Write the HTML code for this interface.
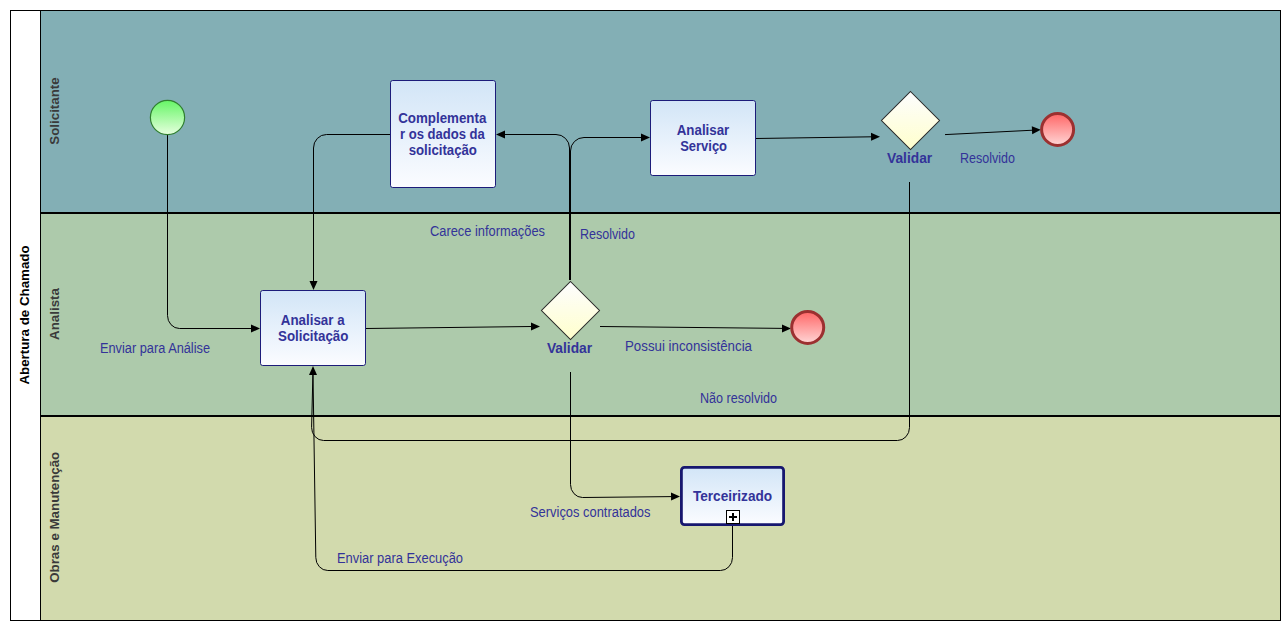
<!DOCTYPE html>
<html>
<head>
<meta charset="utf-8">
<title>Abertura de Chamado</title>
<style>
html,body{margin:0;padding:0;background:#fff;}
body{width:1286px;height:626px;overflow:hidden;}
svg{display:block;}
text{font-family:"Liberation Sans",Arial,sans-serif;font-size:13.33px;}
.lbl{fill:#333399;}
.tb{fill:#333399;font-weight:bold;}
.ln{fill:#3a3a3a;font-weight:bold;text-anchor:middle;}
.pl{fill:#000;font-weight:bold;text-anchor:middle;}
.fl{fill:none;stroke:#000;stroke-width:1;}
.fl2{fill:none;stroke:#000;stroke-width:2;}
.ah{fill:#000;stroke:none;}
</style>
</head>
<body>
<svg width="1286" height="626" viewBox="0 0 1286 626">
<defs>
<linearGradient id="gt" x1="0" y1="0" x2="0" y2="1"><stop offset="0" stop-color="#d2e5f7"/><stop offset="1" stop-color="#fbfcff"/></linearGradient>
<linearGradient id="gg" x1="0" y1="0" x2="0" y2="1"><stop offset="0" stop-color="#fdfdff"/><stop offset="1" stop-color="#ffffcc"/></linearGradient>
<linearGradient id="gs" x1="0" y1="0" x2="0" y2="1"><stop offset="0" stop-color="#66f566"/><stop offset="1" stop-color="#e6ffde"/></linearGradient>
<linearGradient id="ge" x1="0" y1="0" x2="0" y2="1"><stop offset="0" stop-color="#ff6666"/><stop offset="1" stop-color="#ffd6d6"/></linearGradient>
</defs>

<!-- pool and lanes -->
<rect x="0" y="0" width="1286" height="626" fill="#fff"/>
<rect x="41" y="11" width="1239" height="202" fill="#83afb5"/>
<rect x="41" y="213" width="1239" height="203" fill="#adcaab"/>
<rect x="41" y="416" width="1239" height="204" fill="#d2daad"/>
<rect x="10.5" y="10.5" width="1270" height="610" fill="none" stroke="#000" stroke-width="1"/>
<line x1="40.5" y1="10" x2="40.5" y2="621" stroke="#000" stroke-width="1"/>
<rect x="40" y="212" width="1241" height="2" fill="#000"/>
<rect x="40" y="415" width="1241" height="2" fill="#000"/>

<!-- lane labels -->
<text class="pl" transform="translate(29.1 315) rotate(-90)">Abertura de Chamado</text>
<text class="ln" transform="translate(59.2 111) rotate(-90)">Solicitante</text>
<text class="ln" transform="translate(59.2 314) rotate(-90)">Analista</text>
<text class="ln" transform="translate(59.2 517.3) rotate(-90)">Obras e Manutenção</text>
<!-- sequence flows -->
<g id="flows">
<path class="fl" d="M167.5 135V315.5A12 13 0 0 0 179.5 328.5H252"/>
<path class="ah" d="M260 328.5L251 324.5V332.5Z"/>
<path class="fl" d="M390 134.5H326.5A13 13.5 0 0 0 313.5 148V282"/>
<path class="ah" d="M313.5 290L309.5 281H317.5Z"/>
<path class="fl" d="M366 328.5L532 326.5"/>
<path class="ah" d="M540 326.4L531 322.5V330.5Z"/>
<path class="fl" d="M569.5 280V148A13.5 13.5 0 0 0 556 134.5H504"/>
<path class="ah" d="M496 134.5L505 130.5V138.5Z"/>
<path class="fl" d="M570.5 280V151A13.5 13.5 0 0 1 584 137.5H642"/>
<path class="ah" d="M650 137.5L641 133.5V141.5Z"/>
<path class="fl" d="M756 138.5L872 136.8"/>
<path class="ah" d="M880 136.7L871 132.8L871.1 140.8Z"/>
<path class="fl" d="M945 134.6L1033 130.2"/>
<path class="ah" d="M1040.8 129.8L1031.8 126.3L1032.2 134.3Z"/>
<path class="fl" d="M600 326.5L783 328.4"/>
<path class="ah" d="M791 328.4L782 324.4V332.4Z"/>
<path class="fl" d="M570.5 372V484.5A12 13 0 0 0 582.5 497.5L672 496.6"/>
<path class="ah" d="M680 496.5L671 492.6L671.1 500.6Z"/>
<path class="fl" d="M909.5 182V427.5A12 13 0 0 1 897.5 440.5H323.6A12 13 0 0 1 311.6 427.5L312.9 374"/>
<path class="fl" d="M732.5 526V557.5A12 13 0 0 1 720.5 570.5H327.8A12 13 0 0 1 315.8 557.5L313 374"/>
<path class="ah" d="M313 366L309 375H317Z"/>
</g>

<!-- start event -->
<circle cx="167.5" cy="117.5" r="17.1" fill="url(#gs)" stroke="#2f7f2f" stroke-width="1.2"/>
<!-- end events -->
<circle cx="1057.6" cy="129.5" r="16" fill="url(#ge)" stroke="#9c3030" stroke-width="3"/>
<circle cx="807.7" cy="327.4" r="16" fill="url(#ge)" stroke="#9c3030" stroke-width="3"/>
<!-- tasks -->
<rect x="390.5" y="80.5" width="105" height="107" rx="2.2" fill="url(#gt)" stroke="#1c1c7a" stroke-width="1"/>
<rect x="650.5" y="100.5" width="105" height="75" rx="2.2" fill="url(#gt)" stroke="#1c1c7a" stroke-width="1"/>
<rect x="260.5" y="290.5" width="105" height="75" rx="2.2" fill="url(#gt)" stroke="#1c1c7a" stroke-width="1"/>
<!-- sub-process -->
<rect x="681.4" y="467.4" width="102.2" height="57.2" rx="3" fill="url(#gt)" stroke="#17176f" stroke-width="2.8"/>
<rect x="726.5" y="510.5" width="13" height="13" fill="#fff" stroke="#000" stroke-width="1"/>
<path d="M729 517H737M733 513V521" stroke="#000" stroke-width="2" fill="none"/>
<!-- gateways -->
<path d="M570.5 281.5L599.5 310.5L570.5 339.5L541.5 310.5Z" fill="url(#gg)" stroke="#262626" stroke-width="1.05"/>
<path d="M910.5 91.5L939.5 120.5L910.5 149.5L881.5 120.5Z" fill="url(#gg)" stroke="#262626" stroke-width="1.05"/>

<!-- task and gateway names -->
<text class="tb" transform="translate(398.24 123.3) scale(1 1.03)" textLength="88.13" lengthAdjust="spacingAndGlyphs">Complementa</text>
<text class="tb" transform="translate(399.97 139.3) scale(1 1.03)" textLength="84.85" lengthAdjust="spacingAndGlyphs">r os dados da</text>
<text class="tb" transform="translate(408.66 155.3) scale(1 1.03)" textLength="68.29" lengthAdjust="spacingAndGlyphs">solicitação</text>
<text class="tb" transform="translate(676.7 135) scale(1 1.03)" textLength="52.6" lengthAdjust="spacingAndGlyphs">Analisar</text>
<text class="tb" transform="translate(680.17 151) scale(1 1.03)" textLength="46.86" lengthAdjust="spacingAndGlyphs">Serviço</text>
<text class="tb" transform="translate(280.84 325) scale(1 1.03)" textLength="63.71" lengthAdjust="spacingAndGlyphs">Analisar a</text>
<text class="tb" transform="translate(278.01 341) scale(1 1.03)" textLength="70.37" lengthAdjust="spacingAndGlyphs">Solicitação</text>
<text class="tb" transform="translate(692.88 501) scale(1 1.03)" textLength="79.23" lengthAdjust="spacingAndGlyphs">Terceirizado</text>
<text class="tb" transform="translate(546.89 353) scale(1 1.03)" textLength="45.21" lengthAdjust="spacingAndGlyphs">Validar</text>
<text class="tb" transform="translate(887 163) scale(1 1.03)" textLength="45.21" lengthAdjust="spacingAndGlyphs">Validar</text>
<!-- flow labels -->
<text class="lbl" transform="translate(430 235.5) scale(1 1.06)" textLength="115" lengthAdjust="spacingAndGlyphs">Carece informações</text>
<text class="lbl" transform="translate(580 239.3) scale(1 1.06)" textLength="55" lengthAdjust="spacingAndGlyphs">Resolvido</text>
<text class="lbl" transform="translate(960 163.3) scale(1 1.06)" textLength="55" lengthAdjust="spacingAndGlyphs">Resolvido</text>
<text class="lbl" transform="translate(100 353.3) scale(1 1.06)" textLength="110" lengthAdjust="spacingAndGlyphs">Enviar para Análise</text>
<text class="lbl" transform="translate(625 351.3) scale(1 1.06)" textLength="127" lengthAdjust="spacingAndGlyphs">Possui inconsistência</text>
<text class="lbl" transform="translate(700 403.3) scale(1 1.06)" textLength="77" lengthAdjust="spacingAndGlyphs">Não resolvido</text>
<text class="lbl" transform="translate(530 517.3) scale(1 1.06)" textLength="120.5" lengthAdjust="spacingAndGlyphs">Serviços contratados</text>
<text class="lbl" transform="translate(337 563.3) scale(1 1.06)" textLength="126" lengthAdjust="spacingAndGlyphs">Enviar para Execução</text>
</svg>
</body>
</html>
